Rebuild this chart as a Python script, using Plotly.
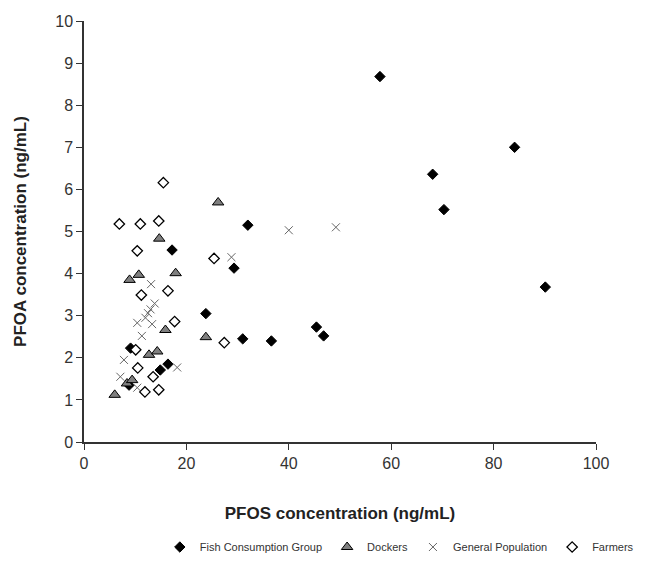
import plotly.graph_objects as go

# Fish Consumption Group
fish_x = [57.8, 84.1, 68.1, 70.3, 90.1, 32.0, 29.3, 23.8, 31.0, 36.6, 45.4, 46.8, 17.2, 9.1, 16.4, 14.9, 8.8]
fish_y = [8.68, 7.00, 6.36, 5.52, 3.68, 5.15, 4.13, 3.05, 2.45, 2.40, 2.73, 2.52, 4.56, 2.23, 1.85, 1.71, 1.35]

# Dockers
dock_x = [26.2, 23.8, 14.7, 8.9, 10.7, 17.9, 15.9, 12.7, 14.3, 8.4, 9.4, 6.0]
dock_y = [5.69, 2.49, 4.83, 3.85, 3.97, 4.01, 2.66, 2.07, 2.15, 1.39, 1.47, 1.12]

# General Population
gen_x = [40.0, 49.2, 28.8, 13.1, 13.8, 13.0, 12.5, 12.0, 10.4, 13.3, 11.3, 7.8, 18.2, 7.1, 10.4]
gen_y = [5.03, 5.10, 4.39, 3.75, 3.29, 3.15, 3.06, 2.95, 2.83, 2.80, 2.52, 1.95, 1.77, 1.55, 1.29]

# Farmers
farm_x = [15.5, 6.9, 11.0, 14.6, 10.4, 25.4, 11.2, 16.4, 17.7, 27.4, 10.1, 10.5, 13.5, 11.9, 14.6]
farm_y = [6.16, 5.18, 5.18, 5.25, 4.54, 4.36, 3.49, 3.59, 2.86, 2.36, 2.19, 1.76, 1.55, 1.19, 1.24]

x_ticks = [0, 20, 40, 60, 80, 100]
y_ticks = list(range(0, 11))

fig = go.Figure()
fig.add_trace(go.Scatter(x=fish_x, y=fish_y, mode="markers", name="Fish Consumption Group",
                         marker=dict(symbol="diamond", size=8, color="black", line=dict(color="black", width=1))))
fig.add_trace(go.Scatter(x=dock_x, y=dock_y, mode="markers", name="Dockers",
                         marker=dict(symbol="triangle-up", size=10, color="#7f7f7f", line=dict(color="black", width=1))))
fig.add_trace(go.Scatter(x=gen_x, y=gen_y, mode="markers", name="General Population",
                         marker=dict(symbol="x-thin", size=8, color="#666666", line=dict(color="#666666", width=1))))
fig.add_trace(go.Scatter(x=farm_x, y=farm_y, mode="markers", name="Farmers",
                         marker=dict(symbol="diamond", size=8, color="white", line=dict(color="black", width=1.3))))

axis_font = dict(family="Liberation Sans, Arial, sans-serif", size=16, color="#333333")
title_font = dict(family="Liberation Sans, Arial, sans-serif", size=17, color="#222222")

fig.update_layout(
    width=634, height=550,
    margin=dict(l=76, r=46, t=13, b=116),
    paper_bgcolor="white", plot_bgcolor="white",
    showlegend=True,
    legend=dict(orientation="h", xref="container", x=0.995, xanchor="right",
                yref="container", y=0.02, yanchor="middle",
                font=dict(family="Liberation Sans, Arial, sans-serif", size=11, color="#333333"),
                itemwidth=30, tracegroupgap=0),
    xaxis=dict(range=[0, 100], tickvals=x_ticks, showgrid=False, zeroline=False, automargin=False,
               showline=True, linecolor="#333333", linewidth=1.5, ticks="outside", ticklen=6,
               tickcolor="#333333", tickfont=axis_font,
               title=dict(text="<b>PFOS concentration (ng/mL)</b>", font=title_font, standoff=36)),
    yaxis=dict(range=[0, 10], tickvals=y_ticks, showgrid=False, zeroline=False, automargin=False,
               showline=True, linecolor="#333333", linewidth=1.5, ticks="outside", ticklen=6,
               tickcolor="#333333", tickfont=axis_font,
               title=dict(text="<b>PFOA concentration (ng/mL)</b>", font=title_font, standoff=24)),
)

fig.write_html("out.html")
